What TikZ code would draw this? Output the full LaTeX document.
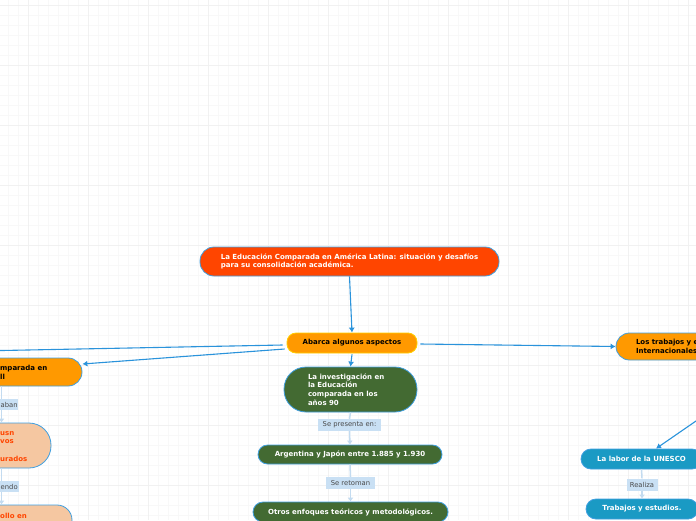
\documentclass[tikz,border=0pt]{standalone}
\usepackage{fontspec}
\setmainfont{DejaVu Sans}
\usetikzlibrary{arrows.meta}
\definecolor{titlered}{HTML}{FF4500}
\definecolor{orng}{HTML}{FF9900}
\definecolor{yel}{HTML}{FFCF00}
\definecolor{grn}{HTML}{436A32}
\definecolor{tealx}{HTML}{1A9AC4}
\definecolor{peach}{HTML}{F5C7A1}
\definecolor{lbl}{HTML}{C9E0F4}
\definecolor{labtxt}{HTML}{4A4A4A}
\definecolor{bord}{HTML}{3F9FE0}
\definecolor{connc}{HTML}{2A93DB}
\definecolor{lconnc}{HTML}{C3DBF0}
\definecolor{redtxt}{HTML}{FF4500}
\definecolor{gridmin}{HTML}{F8F8F8}
\definecolor{gridmaj}{HTML}{F1F1F1}
\tikzset{
  box/.style={draw=bord, line width=0.8pt, rectangle, inner sep=0pt,
    font=\bfseries\fontsize{7}{8.7}\selectfont},
  txt/.style={inner sep=0pt, align=left, font=\bfseries\fontsize{7}{8.7}\selectfont},
  lab/.style={fill=lbl, rectangle, inner sep=0pt, text=labtxt,
    font=\fontsize{6.8}{7}\selectfont},
  conn/.style={draw=connc, line width=1.1pt, -{Latex[length=5pt,width=6pt]}},
  connplain/.style={draw=connc, line width=1.1pt},
  lconn/.style={draw=lconnc, line width=1.5pt, -{Latex[length=4pt,width=6pt]}},
  lconnplain/.style={draw=lconnc, line width=1.5pt},
}
\begin{document}
\begin{tikzpicture}[x=1pt,y=-1pt]
\useasboundingbox (0,0) rectangle (696,520);
\clip (0,0) rectangle (696,520);
\fill[white] (0,0) rectangle (696,520);
% grid
\foreach \x in {8,18,...,688} \draw[gridmin, line width=0.6pt] (\x,0) -- (\x,520);
\foreach \y in {5,15,...,515} \draw[gridmin, line width=0.6pt] (0,\y) -- (696,\y);
\foreach \x in {28,88,...,688} \draw[gridmaj, line width=0.8pt] (\x,0) -- (\x,520);
\foreach \y in {5,65,...,485} \draw[gridmaj, line width=0.8pt] (0,\y) -- (696,\y);

% main nodes
\node[box, fill=titlered, text=white, rounded corners=14pt, minimum width=299pt,
  minimum height=29pt, align=left] (title) at (349.5,261.5)
  {La Educación Comparada en América Latina: situación y desafíos\\para su consolidación académica.};
\node[box, draw=yel, fill=orng, text=black, rounded corners=9pt, minimum width=130pt,
  minimum height=20pt] (abarca) at (352,343) {Abarca algunos aspectos};
\node[box, fill=grn, text=white, rounded corners=22pt, minimum width=133pt,
  minimum height=45pt, text width=85pt, align=left] (inv) at (350.5,389.5)
  {La investigación en\\la Educación\\comparada en los\\años 90};
\node[lab, minimum width=63pt, minimum height=12pt] (l1) at (349.5,425) {Se presenta en:};
\node[box, fill=grn, text=white, rounded corners=9.5pt, minimum width=184pt,
  minimum height=19pt] (arg) at (350,454.5) {Argentina y Japón entre 1.885 y 1.930};
\node[lab, minimum width=49pt, minimum height=12pt] (l2) at (350.5,483) {Se retoman};
\node[box, fill=grn, text=white, rounded corners=10pt, minimum width=195pt,
  minimum height=20pt] (otros) at (350.5,512) {Otros enfoques teóricos y metodológicos.};

% left side (cropped)
\node[box, fill=orng, rounded corners=14pt, minimum width=142pt, minimum height=28pt] (lo) at (11,372) {};
\node[txt, anchor=west, text=black] (lot) at (0,372.5) {mparada en\\ll};
\node[lab, minimum width=48pt, minimum height=11pt] (ab) at (-6,404.5) {};
\node[inner sep=0pt, anchor=west, text=labtxt, font=\fontsize{6.8}{7}\selectfont] (abt) at (0.5,404.8) {aban};
\node[box, fill=peach, rounded corners=22pt, minimum width=111pt, minimum height=45pt] (p1) at (-4.5,445.5) {};
\node[txt, anchor=west, text=redtxt] (p1t) at (0,446.3) {usn\\vos\\\mbox{}\\urados};
\node[lab, minimum width=49pt, minimum height=11pt] (en) at (-5.5,486.5) {};
\node[inner sep=0pt, anchor=west, text=labtxt, font=\fontsize{6.8}{7}\selectfont] (ent) at (0.5,486.8) {endo};
\node[box, fill=peach, rounded corners=15pt, minimum width=132pt, minimum height=30pt] (p2) at (6,520) {};
\node[txt, anchor=west, text=redtxt] (p2t) at (0,516.3) {ollo en};

% right side (cropped)
\node[box, fill=orng, text=black, rounded corners=13.5pt, minimum width=160pt,
  minimum height=27pt, text width=120pt, align=left] (ro) at (696,346.5)
  {Los trabajos y e\\Internacionales};
\node[box, fill=tealx, text=white, rounded corners=10pt, minimum width=121pt,
  minimum height=20pt] (un) at (641.5,459) {La labor de la UNESCO};
\node[lab, minimum width=31pt, minimum height=12pt] (l3) at (642,484.5) {Realiza};
\node[box, fill=tealx, text=white, rounded corners=10pt, minimum width=112pt,
  minimum height=20pt] (tr) at (642,509) {Trabajos y estudios.};

% connectors
\coordinate (offL) at (-100,352.5);
\coordinate (offR) at (736,393.4);
\coordinate (xl) at (1.5,0);
\draw[conn] (title.south) -- (abarca.north);
\draw[connplain] ([xshift=-4pt,yshift=-2pt]abarca.west) -- (offL);
\draw[conn] ([xshift=-2pt,yshift=-6pt]abarca.west) -- ([yshift=8pt]lo.east);
\draw[conn] ([xshift=3pt,yshift=-1pt]abarca.east) -- (ro.west);
\draw[conn] ([yshift=-1pt]abarca.south) -- (inv.north);
\draw[conn] (offR) -- ([xshift=14.5pt]un.north);

\draw[lconnplain] (inv.south) -- (l1.north);
\draw[lconn] (l1.south) -- (arg.north);
\draw[lconnplain] (arg.south) -- (l2.north);
\draw[lconn] (l2.south) -- (otros.north);
\draw[lconnplain] (un.south) -- (l3.north);
\draw[lconn] (l3.south) -- (tr.north);
\draw[lconnplain] (lo.south -| xl) -- (ab.north -| xl);
\draw[lconn] (ab.south -| xl) -- (p1.north -| xl);
\draw[lconnplain] (p1.south -| xl) -- (en.north -| xl);
\draw[lconn] (en.south -| xl) -- (p2.north -| xl);
\end{tikzpicture}
\end{document}
